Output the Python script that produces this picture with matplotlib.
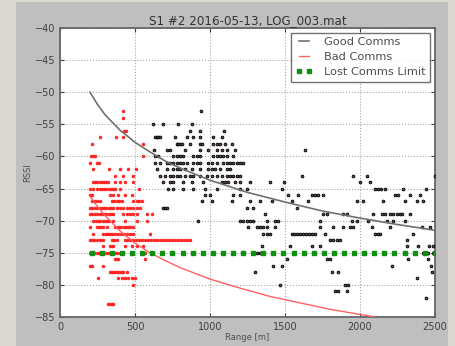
import matplotlib
matplotlib.use("Agg")
import matplotlib.pyplot as plt
from matplotlib.patches import Rectangle

# scatter rows: RSSI value -> ranges [m]
bad_rows = {
    -53: [422], -54: [422], -56: [430, 440],
    -57: [267, 373, 422], -58: [211, 556],
    -60: [210, 222, 235, 556], -61: [200, 245, 258],
    -62: [222, 329, 400, 455, 507], -63: [367, 422, 484],
    -64: [222, 235, 250, 265, 280, 295, 310, 322, 367, 400, 433, 484],
    -65: [200, 222, 250, 265, 280, 295, 310, 325, 340, 355, 370, 400, 529],
    -66: [200, 215, 333, 356, 389, 433, 478],
    -67: [211, 230, 250, 267, 345, 360, 378, 395, 411, 489, 511, 530, 545],
    -68: [200, 215, 233, 250, 265, 280, 295, 310, 325, 340, 356, 378, 400,
          422, 444, 467, 489, 511, 533],
    -69: [200, 215, 233, 250, 265, 280, 295, 310, 325, 340, 356, 422, 444,
          467, 489, 511, 578, 611],
    -70: [222, 240, 255, 270, 285, 300, 315, 330, 356, 433, 511, 578],
    -71: [200, 244, 260, 275, 290, 311, 367, 380, 395, 410, 425, 440, 455,
          467, 489],
    -72: [222, 289, 305, 320, 335, 350, 367, 389, 410, 430, 450, 470, 489, 600],
    -73: [200, 215, 230, 250, 267, 289, 345, 360, 378, 433, 450, 470, 489,
          510, 530, 550, 570, 590, 610, 630, 650, 670, 690, 710, 730, 750,
          770, 790, 810, 830, 850, 867],
    -74: [289, 333, 345, 356, 433, 478, 511, 556],
    -75: [200, 215, 230, 245, 260, 275, 290, 305, 320, 335, 350, 365, 380,
          400, 422, 567],
    -76: [367, 378, 389, 567], -77: [200, 215, 289],
    -78: [333, 345, 356, 367, 378, 389, 400, 411, 422, 444],
    -79: [255, 389, 411, 433, 456, 478, 500], -80: [484],
    -83: [322, 333, 344, 356],
}

good_rows = {
    -53: [940], -55: [618, 689, 789, 878], -56: [867, 933, 1093],
    -57: [633, 645, 656, 667, 767, 844, 889, 933, 1022, 1078],
    -58: [778, 789, 800, 811, 867, 933, 944, 1022, 1044, 1067, 1100, 1149],
    -59: [627, 711, 733, 833, 933, 989, 1044, 1078, 1111, 1167, 1633],
    -60: [633, 656, 756, 778, 800, 822, 889, 911, 933, 1022, 1044, 1067,
          1089, 1111, 1156],
    -61: [633, 667, 711, 733, 756, 778, 800, 822, 844, 889, 911, 933, 989,
          1011, 1044, 1089, 1111, 1133, 1156, 1178, 1200, 1222],
    -62: [644, 711, 756, 778, 800, 833, 878, 933, 989, 1011, 1033, 1067,
          1111, 1133],
    -63: [667, 700, 733, 756, 778, 800, 833, 867, 889, 933, 978, 1011, 1044,
          1078, 1111, 1133, 1156, 1178, 1200, 1611, 1956, 2044, 2500],
    -64: [689, 733, 756, 822, 878, 956, 1078, 1100, 1122, 1167, 1200, 1267,
          1400, 1496, 2000, 2067],
    -65: [722, 756, 822, 889, 967, 1044, 1200, 1244, 1478, 2100, 2120, 2140,
          2167, 2289, 2440],
    -66: [967, 1000, 1156, 1200, 1522, 1589, 1678, 1700, 1722, 1756, 2233,
          2256, 2333, 2400],
    -67: [944, 1011, 1144, 1267, 1333, 1411, 1544, 1656, 1978, 2022, 2156,
          2300, 2378, 2422],
    -68: [689, 700, 711, 1244, 1289, 1578],
    -69: [1367, 1756, 1778, 1889, 1911, 2089, 2144, 2167, 2200, 2222, 2244,
          2266, 2278, 2333],
    -70: [922, 1200, 1222, 1244, 1267, 1289, 1378, 1433, 1456, 1733, 1944,
          1978, 2056, 2178, 2222, 2300],
    -71: [1256, 1311, 1333, 1356, 1378, 1433, 1733, 1822, 1889, 1933, 1956,
          2078, 2200, 2411, 2467],
    -72: [1356, 1378, 1400, 1544, 1560, 1580, 1600, 1620, 1640, 1660, 1680,
          1700, 1767, 2100, 2120, 2133, 2356],
    -73: [1800, 1822, 1844, 1867, 2311],
    -74: [1344, 1533, 1678, 1733, 2311, 2389, 2462, 2484],
    -75: [1311, 1333, 1356, 2422, 2456, 2489],
    -76: [1511, 1778, 1800, 2322, 2456], -77: [1422, 1478, 2211, 2471],
    -78: [1300, 1811, 1856, 2478], -79: [2378],
    -80: [1467, 1900, 1922], -81: [1833, 1856, 1911], -82: [2440],
}

good_curve_range = [200, 250, 300, 400, 500, 600, 700, 800, 1000, 1250,
                    1500, 1750, 2000, 2250, 2500]
good_curve_rssi = [-50, -51.9, -53.5, -55.9, -57.8, -59.3, -60.7, -61.8,
                   -63.7, -65.6, -67.1, -68.5, -69.6, -70.6, -71.5]

bad_curve_range = [200, 250, 300, 400, 500, 600, 700, 800, 1000, 1200, 1400,
                   1600, 1800, 2000, 2100]
bad_curve_rssi = [-66.2, -67.8, -69.2, -71.6, -73.5, -75, -76.2, -77.3,
                  -79.1, -80.5, -81.8, -82.8, -83.8, -84.6, -85]

lost_range = [211, 278, 346, 413, 480, 548, 615, 682, 749, 817, 884, 951,
              1019, 1086, 1153, 1221, 1288, 1355, 1423, 1490, 1557, 1624,
              1692, 1759, 1826, 1894, 1961, 2028, 2096, 2163, 2230, 2298,
              2365, 2432, 2500]
lost_limit = -75


def flatten(rows):
    xs, ys = [], []
    for rssi, ranges in rows.items():
        xs += ranges
        ys += [rssi] * len(ranges)
    return xs, ys


bad_x, bad_y = flatten(bad_rows)
good_x, good_y = flatten(good_rows)

fig = plt.figure(figsize=(4.56, 3.46), dpi=100, facecolor="#dcd9d2")
fig.patches.append(Rectangle((16 / 456, 0), (448 - 16) / 456, 344 / 346,
                             transform=fig.transFigure, facecolor="#bfbfbf",
                             edgecolor="none", zorder=-10))
ax = fig.add_axes([60 / 456, 29 / 346, 375 / 456, 289 / 346])
ax.set_facecolor("white")

ax.plot(bad_x, bad_y, "o", color="#ff2020", ms=2.0, mec="#ff2020", mew=0.5,
        zorder=3)
ax.plot(good_x, good_y, "o", color="#5a4848", ms=2.0, mec="black", mew=0.6,
        zorder=3)
ax.plot(good_curve_range, good_curve_rssi, color="#707070", lw=1.2,
        label="Good Comms", zorder=4)
ax.plot(bad_curve_range, bad_curve_rssi, color="#ff6060", lw=1.0,
        label="Bad Comms", zorder=4)
ax.plot(lost_range, [lost_limit] * len(lost_range), "s", color="#109010",
        ms=3.0, mec="#109010", label="Lost Comms Limit", zorder=5)

ax.set_xlim(0, 2500)
ax.set_ylim(-85, -40)
ax.set_xticks(range(0, 2501, 500))
ax.set_yticks(range(-85, -39, 5))
ax.grid(True, ls=":", color="0.65", lw=0.8)
ax.tick_params(labelsize=7, direction="in", top=True, right=True,
               length=3, colors="0.25")
for s in ax.spines.values():
    s.set_color("0.4")
    s.set_linewidth(1.3)

ax.set_title("S1 #2 2016-05-13, LOG_003.mat", fontsize=8.6, color="0.2",
             pad=3)
ax.set_xlabel("Range [m]", fontsize=6, color="0.3", labelpad=1)
ax.set_ylabel("RSSI", fontsize=6, color="0.3", labelpad=2)

leg = ax.legend(loc="upper right", fontsize=8.2, numpoints=2, fancybox=False,
                handlelength=1.5, handletextpad=1.0, borderaxespad=0.4,
                labelspacing=0.45, borderpad=0.4)
leg.get_frame().set_edgecolor("0.3")
leg.get_frame().set_linewidth(1.0)
for t in leg.get_texts():
    t.set_color("0.3")

fig.savefig("out.png", dpi=100, facecolor=fig.get_facecolor())
